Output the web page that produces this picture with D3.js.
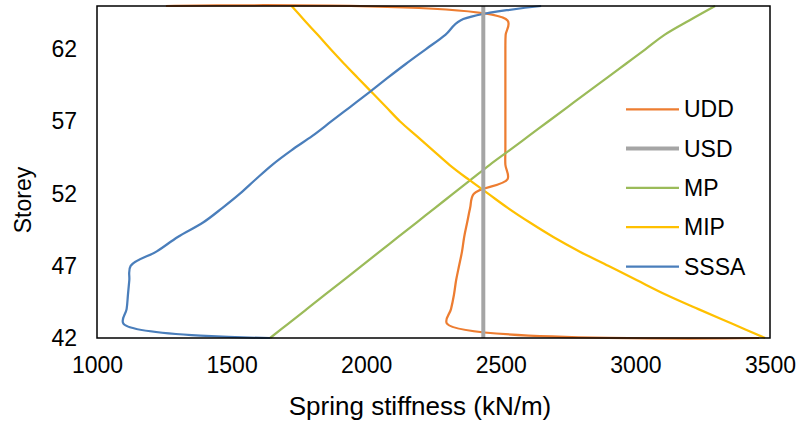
<!DOCTYPE html>
<html>
<head>
<meta charset="utf-8">
<script src="https://cdn.jsdelivr.net/npm/d3@7"></script>
<style>
    body { margin: 0; background: #fff; }
    svg { display: block; font-family: "Liberation Sans", Arial, sans-serif; }
</style>
</head>
<body>
<svg id="canvas"></svg>
<script>
const WIDTH = 800;
const HEIGHT = 423;

// storeys (y) and spring stiffness values (x)
const storeys = [42, 43, 44, 45, 46, 47, 48, 49, 50, 51, 52, 53, 54, 55, 56, 57, 58, 59, 60, 61, 62, 63, 64, 65];
const udd = [3460, 2300, 2315, 2326, 2334, 2345, 2356, 2364, 2375, 2386, 2400, 2525, 2517, 2517, 2517, 2517, 2517, 2517, 2517, 2517, 2517, 2518, 2525, 1256];
const usd = [2435, 2435, 2435, 2435, 2435, 2435, 2435, 2435, 2435, 2435, 2435, 2435, 2435, 2435, 2435, 2435, 2435, 2435, 2435, 2435, 2435, 2435, 2435, 2435];
const mp = [1643, 1711, 1779, 1847, 1915, 1983, 2051, 2119, 2187, 2255, 2323, 2391, 2459, 2532, 2604, 2676, 2748, 2820, 2893, 2965, 3037, 3108, 3200, 3296];
const mip = [3482, 3358, 3234, 3114, 3006, 2899, 2792, 2695, 2608, 2527, 2453, 2379, 2309, 2248, 2187, 2126, 2074, 2022, 1970, 1918, 1868, 1820, 1771, 1723];
const sssa = [1643, 1098, 1110, 1115, 1120, 1125, 1222, 1300, 1394, 1465, 1531, 1590, 1651, 1722, 1800, 1870, 1940, 2010, 2078, 2148, 2221, 2294, 2350, 2650];

const seriesNames = ["UDD", "USD", "MP", "MIP", "SSSA"];
const seriesValues = [udd, usd, mp, mip, sssa];
const colors = ["#ED7D31", "#A5A5A5", "#9BBB59", "#FFC000", "#4A7EBB"];
const widths = [2.25, 4, 2.25, 2.25, 2.25];

const xTicks = [1000, 1500, 2000, 2500, 3000, 3500];
const yTicks = [42, 47, 52, 57, 62];

// plot area
const plotLeft = 97, plotRight = 770, plotTop = 6, plotBottom = 338;

const scaleX = d3.scaleLinear([1000, 3500], [plotLeft, plotRight]);
const scaleY = d3.scaleLinear([42, 65], [plotBottom, plotTop]);

const canvas = d3.select('#canvas')
    .attr("width", WIDTH)
    .attr("height", HEIGHT);

// series lines (smoothed like the spreadsheet)
const line = d3.line()
    .x(d => scaleX(d[0]))
    .y(d => scaleY(d[1]))
    .curve(d3.curveCatmullRom.alpha(0.5));

const linesGroup = canvas.append('g');
linesGroup.selectAll('path')
    .data(seriesValues)
    .enter()
    .append('path')
    .attr('fill', 'none')
    .attr('stroke', (d, i) => colors[i])
    .attr('stroke-width', (d, i) => widths[i])
    .attr('stroke-linejoin', 'round')
    .attr('d', vals => line(vals.map((v, j) => [v, storeys[j]])));

// keep the grey USD line on top of orange like the reference
linesGroup.selectAll('path').filter((d, i) => i === 1).raise();

// frame
canvas.append('rect')
    .attr('x', plotLeft)
    .attr('y', plotTop)
    .attr('width', plotRight - plotLeft)
    .attr('height', plotBottom - plotTop)
    .attr('fill', 'none')
    .attr('stroke', '#000')
    .attr('stroke-width', 1.5);

// axes: labels only, no tick marks
const xAxis = canvas.append('g')
    .attr('transform', `translate(0, ${plotBottom})`)
    .call(d3.axisBottom(scaleX).tickValues(xTicks).tickSize(0).tickPadding(19).tickFormat(d3.format('d')));
const yAxis = canvas.append('g')
    .attr('transform', `translate(${plotLeft}, 0)`)
    .call(d3.axisLeft(scaleY).tickValues(yTicks).tickSize(0).tickPadding(20).tickFormat(d3.format('d')));

[xAxis, yAxis].forEach(ax => {
    ax.select('.domain').remove();
    ax.selectAll('text')
        .attr('font-family', '"Liberation Sans", Arial, sans-serif')
        .attr('font-size', 23)
        .attr('fill', '#000');
});

// axis titles
canvas.append('text')
    .attr('x', 420)
    .attr('y', 415)
    .attr('text-anchor', 'middle')
    .attr('font-size', 26)
    .text('Spring stiffness (kN/m)');

canvas.append('text')
    .attr('transform', 'translate(31, 200) rotate(-90)')
    .attr('text-anchor', 'middle')
    .attr('font-size', 23)
    .text('Storey');

// legend
const legend = canvas.append('g')
    .selectAll('g')
    .data(seriesNames)
    .enter()
    .append('g')
    .attr('transform', (d, i) => `translate(626, ${109.3 + i * 39.3})`);

legend.append('line')
    .attr('x1', 0)
    .attr('x2', 53)
    .attr('stroke', (d, i) => colors[i])
    .attr('stroke-width', (d, i) => widths[i]);

legend.append('text')
    .attr('x', 58)
    .attr('y', 8)
    .attr('font-size', 23)
    .text(d => d);
</script>
</body>
</html>
